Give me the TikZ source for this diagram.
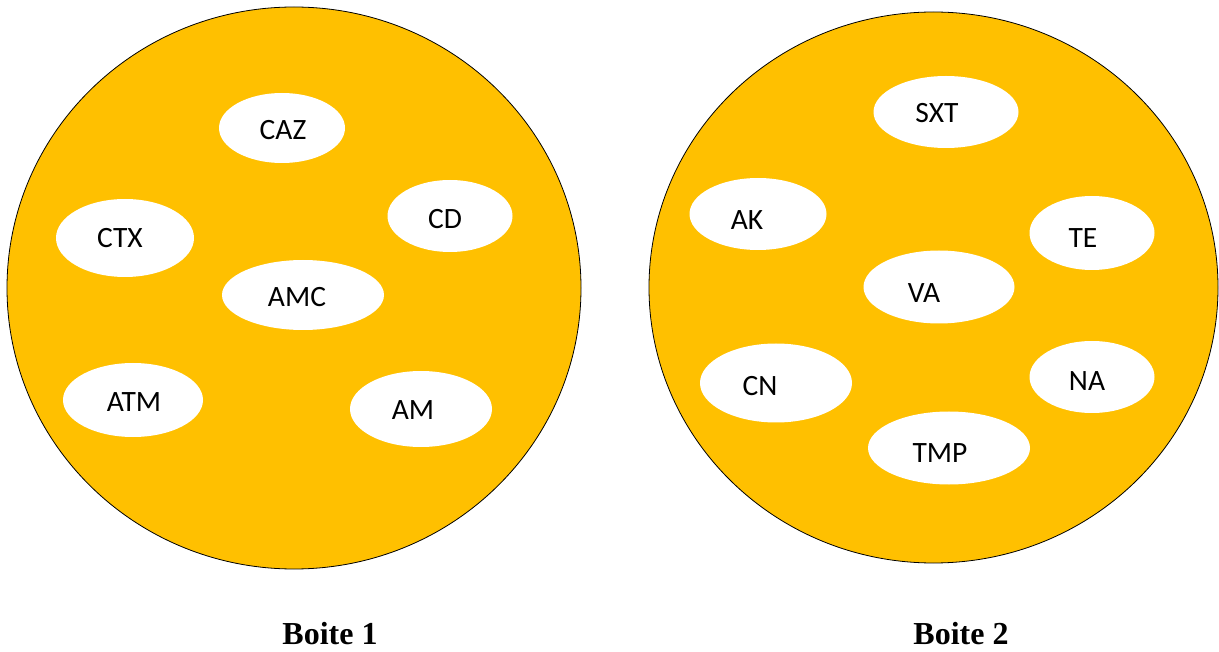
\documentclass[tikz,border=0pt]{standalone}
\usepackage{fontspec}
\setmainfont{Carlito}
\newfontfamily\boitefont{Liberation Serif}
\usetikzlibrary{shapes.geometric}
\definecolor{gold}{HTML}{FFC000}
\tikzset{
  boite/.style={ellipse, draw=black, line width=0.8pt, fill=gold, inner sep=0pt},
  bulle/.style={ellipse, fill=white, draw=none, inner sep=0pt},
  lab/.style={inner sep=0pt, font=\fontsize{29.5}{33}\selectfont},
  titre/.style={inner sep=0pt, anchor=base, font=\boitefont\bfseries\fontsize{32}{36}\selectfont}
}
\begin{document}
\begin{tikzpicture}[x=1pt,y=-1pt]
\useasboundingbox (0,0) rectangle (1219,652);
% big circles
\node[boite, minimum width=574, minimum height=562] (b1) at (294,288) {};
\node[boite, minimum width=569, minimum height=551] (b2) at (933.5,287.5) {};
% Boite 1 bubbles
\node[bulle, minimum width=126, minimum height=70] (eCAZ) at (282,128) {};
\node[bulle, minimum width=125, minimum height=72] (eCD) at (450,216) {};
\node[bulle, minimum width=138, minimum height=78] (eCTX) at (125,238) {};
\node[bulle, minimum width=162, minimum height=70] (eAMC) at (303,295) {};
\node[bulle, minimum width=140, minimum height=74] (eATM) at (133,400) {};
\node[bulle, minimum width=142, minimum height=76] (eAM) at (421,409) {};
\node[lab] (tCAZ) at (283,130) {CAZ};
\node[lab] (tCD) at (445,219) {CD};
\node[lab] (tCTX) at (120,238) {CTX};
\node[lab] (tAMC) at (297,297) {AMC};
\node[lab] (tATM) at (134,402) {ATM};
\node[lab] (tAM) at (413,410) {AM};
% Boite 2 bubbles
\node[bulle, minimum width=145, minimum height=72] (eSXT) at (946,112) {};
\node[bulle, minimum width=137, minimum height=72] (eAK) at (758,214) {};
\node[bulle, minimum width=125, minimum height=74] (eTE) at (1092,233) {};
\node[bulle, minimum width=151, minimum height=73] (eVA) at (939,287) {};
\node[bulle, minimum width=152, minimum height=79] (eCN) at (776,383) {};
\node[bulle, minimum width=125, minimum height=72] (eNA) at (1092,377) {};
\node[bulle, minimum width=162, minimum height=73] (eTMP) at (949,448) {};
\node[lab] (tSXT) at (937,113) {SXT};
\node[lab] (tAK) at (747,220) {AK};
\node[lab] (tTE) at (1083,238) {TE};
\node[lab] (tVA) at (924,293) {VA};
\node[lab] (tCN) at (760,386) {CN};
\node[lab] (tNA) at (1087,381) {NA};
\node[lab] (tTMP) at (940,453) {TMP};
% titles
\node[titre] (l1) at (330,644) {Boite 1};
\node[titre] (l2) at (961,644) {Boite 2};
\end{tikzpicture}
\end{document}
